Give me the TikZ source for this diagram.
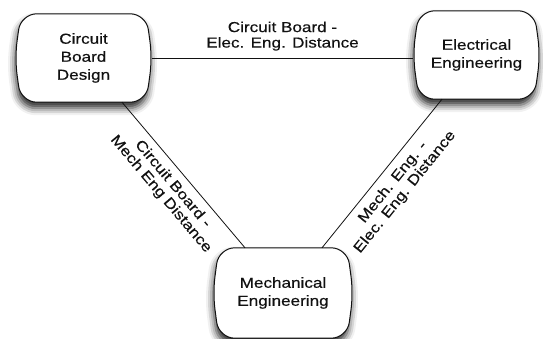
\documentclass[tikz,border=0pt]{standalone}
\usepackage{fontspec}
\setmainfont{Liberation Sans}[FakeStretch=1.18, FakeBold=0.4]
\usetikzlibrary{calc,shadows.blur}
\definecolor{ink}{HTML}{111111}
\tikzset{
  box/.style={draw=none, inner sep=0pt, align=center, text=ink,
    font=\fontsize{14.5}{18}\selectfont},
  outline/.style={draw=ink, line width=1pt, fill=white, rounded corners=16pt,
    blur shadow={shadow xshift=-1pt, shadow yshift=-6pt, shadow blur radius=7pt,
      shadow opacity=85}},
  conn/.style={draw=ink, line width=0.8pt},
  lab/.style={align=center, text=ink, inner sep=7pt,
    font=\fontsize{14.5}{15.5}\selectfont}
}
\newcommand\boxoutline[1]{%
  \path[outline] ([xshift=6pt]#1.north west) -- ([xshift=-6pt]#1.north east)
    -- (#1.east) -- ([xshift=-6pt]#1.south east) -- ([xshift=6pt]#1.south west)
    -- (#1.west) -- cycle;}
\begin{document}
\begin{tikzpicture}[x=1pt,y=-1pt]
\useasboundingbox (0,0) rectangle (543,339);
\node[box, minimum width=137pt, minimum height=88pt] (cbd) at (83.5,58) {Circuit\\Board\\Design};
\node[box, minimum width=127pt, minimum height=88pt] (ee) at (476.5,55) {Electrical\\Engineering};
\node[box, minimum width=140pt, minimum height=90pt] (me) at (283,293) {Mechanical\\Engineering};
\boxoutline{cbd}
\boxoutline{ee}
\boxoutline{me}
\node[box, minimum width=137pt, minimum height=88pt] at (cbd) {Circuit\\Board\\Design};
\node[box, minimum width=127pt, minimum height=88pt] at (ee) {Electrical\\Engineering};
\node[box, minimum width=140pt, minimum height=90pt] at (me) {Mechanical\\Engineering};
\draw[conn] (cbd.east) -- (cbd.east -| ee.west)
  node[midway, above, lab] {Circuit Board -\\Elec. Eng. Distance};
\draw[conn] ([xshift=38.5pt]cbd.south) -- ([xshift=-38pt]me.north)
  node[midway, sloped, below, lab] {Circuit Board -\\Mech Eng Distance};
\draw[conn] ([xshift=-34.5pt]ee.south) -- ([xshift=39pt]me.north)
  node[midway, sloped, below, lab] {Mech. Eng. -\\Elec. Eng. Distance};
\end{tikzpicture}
\end{document}
